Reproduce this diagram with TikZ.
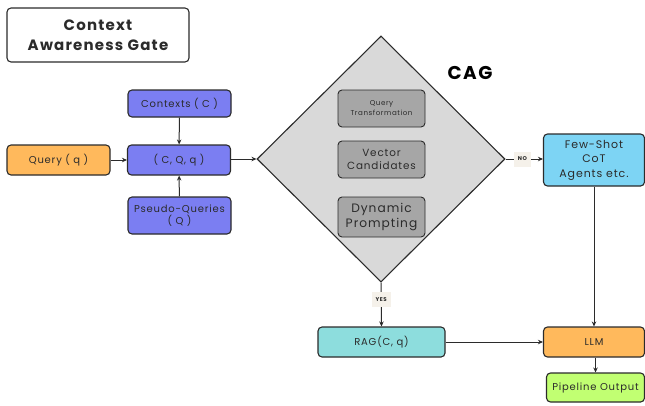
\documentclass[tikz,border=0pt]{standalone}
\usepackage{fontspec}
\setmainfont{Poppins}[LetterSpace=8]
\usetikzlibrary{shapes.geometric,arrows.meta}
\definecolor{ink}{HTML}{2B2B2B}
\definecolor{purp}{HTML}{7B7EF2}
\definecolor{orng}{HTML}{FFB95C}
\definecolor{cyanb}{HTML}{7DD4F4}
\definecolor{teal}{HTML}{8DDDDD}
\definecolor{lime}{HTML}{C1FF72}
\definecolor{dgrey}{HTML}{D9D9D9}
\definecolor{mgrey}{HTML}{A6A6A6}
\definecolor{beige}{HTML}{F5F1EA}
\tikzset{
  box/.style={draw=ink, line width=1.1pt, rounded corners=4pt, inner sep=1pt, align=center, text=ink, font=\fontsize{10}{12.5}\selectfont},
  ibox/.style={box, fill=mgrey, minimum width=87pt, line width=0.9pt},
  lab/.style={fill=beige, inner xsep=4pt, minimum height=15pt, font=\bfseries\fontsize{5.5}{6}\selectfont, text=ink},
  conn/.style={draw=ink, line width=1pt, -{Stealth[length=5pt,width=4.5pt]}},
}
\begin{document}
\begin{tikzpicture}[x=1pt,y=-1pt]
\useasboundingbox (0,0) rectangle (645,405);
% title
\node[box, fill=white, minimum width=182pt, minimum height=54pt, font=\bfseries\fontsize{15}{20}\selectfont] (title) at (98,35) {Context\\Awareness Gate};
% left boxes
\node[box, fill=purp, minimum width=103pt, minimum height=27pt] (ctx) at (179.5,103.5) {Contexts ( C )};
\node[box, fill=orng, minimum width=103pt, minimum height=30pt] (query) at (58.5,160) {Query ( q )};
\node[box, fill=purp, minimum width=103pt, minimum height=30pt] (cqq) at (179,160) {( C, Q, q )};
\node[box, fill=purp, minimum width=103pt, minimum height=37pt] (pseudo) at (179.5,215.5) {Pseudo-Queries\\( Q )};
% diamond
\node[draw=ink, line width=1.1pt, fill=dgrey, shape=diamond, inner sep=0pt, minimum width=248pt, minimum height=246pt] (cag) at (381,159) {};
\node[font=\bfseries\fontsize{18.5}{20}\selectfont, text=black] (caglabel) at (470,73) {CAG};
\node[ibox, minimum height=37pt, font=\fontsize{7.1}{10}\selectfont] (qt) at (381.5,108.5) {Query\\Transformation};
\node[ibox, minimum height=37pt, font=\fontsize{10.4}{13.5}\selectfont] (vc) at (381.5,159.5) {Vector\\Candidates};
\node[ibox, minimum height=40pt, font=\fontsize{12.2}{15}\selectfont] (dp) at (381.5,217) {Dynamic\\Prompting};
% right boxes
\node[box, fill=cyanb, minimum width=101pt, minimum height=52pt, font=\fontsize{11}{14.5}\selectfont] (fs) at (594,160) {Few-Shot\\CoT\\Agents etc.};
\node[box, fill=teal, minimum width=127pt, minimum height=30pt] (rag) at (381.5,342) {RAG(C, q)};
\node[box, fill=orng, minimum width=101pt, minimum height=30pt] (llm) at (594,342) {LLM};
\node[box, fill=lime, minimum width=98pt, minimum height=29pt] (out) at (595.5,387.5) {Pipeline Output};
% connectors
\draw[conn] (ctx) -- (cqq);
\draw[conn] (pseudo) -- (cqq);
\draw[conn] (query) -- (cqq);
\draw[conn] (cqq.east |- cag.west) -- (cag.west);
\draw[conn] (cag.east) -- node[lab, pos=0.45] (no) {NO} (cag.east -| fs.west);
\draw[conn] (cag.south) -- node[lab, pos=0.39] (yes) {YES} (rag.north);
\draw[conn] (rag) -- (llm);
\draw[conn] (fs) -- (llm);
\draw[conn] (llm.south -| out.north) -- (out.north);
\end{tikzpicture}
\end{document}
